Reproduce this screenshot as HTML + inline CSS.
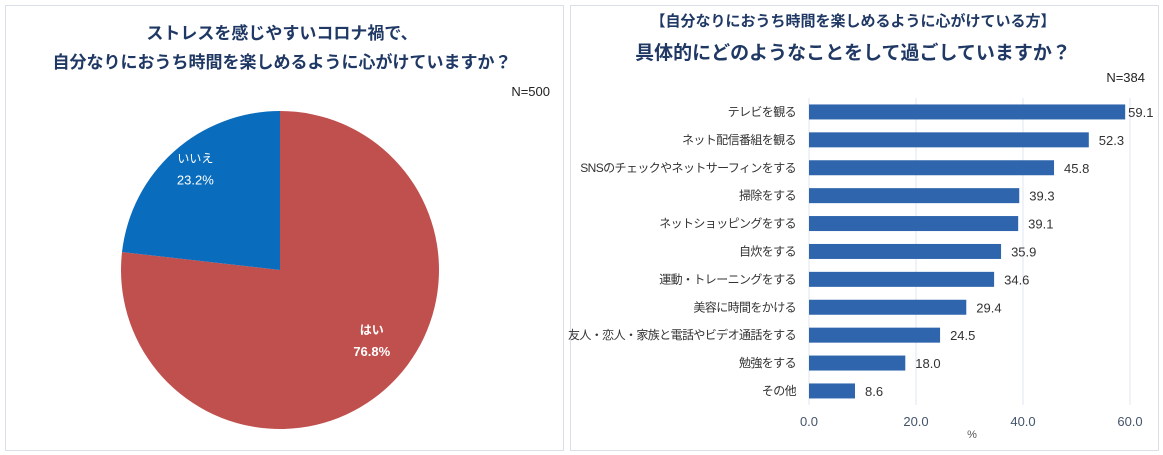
<!DOCTYPE html>
<html><head><meta charset="utf-8"><style>
html,body{margin:0;padding:0;background:#fff;}
body{width:1163px;height:455px;position:relative;overflow:hidden;font-family:"Liberation Sans","Noto Sans CJK JP",sans-serif;}
.panel{position:absolute;border:1px solid #d9dee8;background:#fff;box-sizing:border-box;}
svg text{font-family:"Liberation Sans","Noto Sans CJK JP",sans-serif;}
</style></head><body>
<div class="panel" style="left:5px;top:5px;width:559px;height:446px;"></div>
<div class="panel" style="left:570px;top:5px;width:589px;height:446px;"></div>
<svg id="chart" width="1163" height="455" style="position:absolute;left:0;top:0">
<text x="282" y="39" text-anchor="middle" font-size="17" font-weight="bold" fill="#1f3864">ストレスを感じやすいコロナ禍で、</text>
<text x="282" y="68" text-anchor="middle" font-size="17" font-weight="bold" fill="#1f3864">自分なりにおうち時間を楽しめるように心がけていますか？</text>
<text x="550" y="96" text-anchor="end" font-size="13" fill="#222">N=500</text>
<g id="pie"></g>
<text x="853" y="26" text-anchor="middle" font-size="15" font-weight="bold" fill="#1f3864">【自分なりにおうち時間を楽しめるように心がけている方】</text>
<text x="853" y="59" text-anchor="middle" font-size="19" font-weight="bold" fill="#1f3864">具体的にどのようなことをして過ごしていますか？</text>
<text x="1145" y="82" text-anchor="end" font-size="13" fill="#222">N=384</text>
<g id="bars"></g>
<text x="972" y="438" text-anchor="middle" font-size="11" fill="#555">%</text>
</svg>
<script>
const pieLabels=["はい","いいえ"];
const pieValues=[76.8,23.2];
const pieColors=["#c0504d","#0a6cbd"];
const barCategories=["テレビを観る","ネット配信番組を観る","SNSのチェックやネットサーフィンをする","掃除をする","ネットショッピングをする","自炊をする","運動・トレーニングをする","美容に時間をかける","友人・恋人・家族と電話やビデオ通話をする","勉強をする","その他"];
const barValues=[59.1,52.3,45.8,39.3,39.1,35.9,34.6,29.4,24.5,18.0,8.6];
const xTicks=[0,20,40,60];
const NS="http://www.w3.org/2000/svg";
function mk(t,a,p){const e=document.createElementNS(NS,t);for(const k in a)e.setAttribute(k,a[k]);p.appendChild(e);return e;}
// pie
const pieG=document.getElementById('pie');
const pcx=280,pcy=270,pr=159;
const pieTotal=pieValues.reduce((a,b)=>a+b,0);
let pieAng=0;
pieValues.forEach((v,i)=>{
  const a0=pieAng,a1=pieAng+v/pieTotal*2*Math.PI;pieAng=a1;
  const sx=pcx+pr*Math.sin(a0),sy=pcy-pr*Math.cos(a0),ex=pcx+pr*Math.sin(a1),ey=pcy-pr*Math.cos(a1);
  const p=mk('path',{d:`M${pcx},${pcy}L${sx},${sy}A${pr},${pr} 0 ${a1-a0>Math.PI?1:0} 1 ${ex},${ey}Z`,fill:pieColors[i]},pieG);
  
  
  const m=(a0+a1)/2,lr=pr*(i===0?0.64:0.62);
  const lx=pcx+lr*Math.sin(m)+(i===0?24:-19),ly=pcy-lr*Math.cos(m)+(i===0?-12:-34);
  const t1=mk('text',{x:lx,y:ly,'text-anchor':'middle','font-size':12,fill:'#fff','font-weight':i===0?'bold':'normal'},pieG);
  t1.textContent=pieLabels[i];
  
  
  const t2=mk('text',{x:lx,y:ly+22,'text-anchor':'middle','font-size':13,fill:'#fff','font-weight':i===0?'bold':'normal'},pieG);
  t2.textContent=v.toFixed(1)+'%';
  
  
});
// bars
const barG=document.getElementById('bars');
const bx0=809,bxs=(1130-809)/60,plotTop=98,step=27.9,bh=15;
const X=v=>bx0+v*bxs;
xTicks.forEach(t=>{
  const l=mk('line',{x1:X(t),x2:X(t),y1:plotTop,y2:405,stroke:'#dfe4ee','stroke-width':1},barG);
  
  
  const tx=mk('text',{x:X(t),y:426,'text-anchor':'middle','font-size':13,fill:'#44546a'},barG);
  tx.textContent=t.toFixed(1);
  
  
});
barCategories.forEach((c,i)=>{
  const yc=plotTop+step*(i+0.5);
  const b=mk('rect',{x:bx0,y:yc-bh/2,width:X(barValues[i])-bx0,height:bh,fill:'#2e65ad'},barG);
  
  
  const lb=mk('text',{x:796,y:yc+4,'text-anchor':'end','font-size':12,'letter-spacing':'-0.6',fill:'#333'},barG);
  lb.textContent=c;
  
  
  const vl=mk('text',{x:X(barValues[i])+(i===0?3:10),y:yc+5,'font-size':13,fill:'#333'},barG);
  vl.textContent=barValues[i].toFixed(1);
  
  
});
</script>
</body></html>
